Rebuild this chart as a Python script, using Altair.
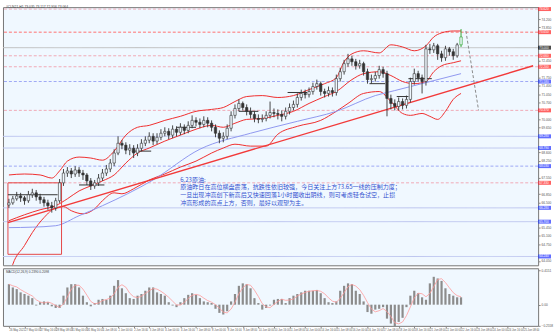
import json
import altair as alt
import pandas as pd

# ---------------- data ----------------
close = [66.49, 66.66, 66.78, 66.70, 66.58, 66.83, 66.91, 66.74, 66.62, 66.49,
         66.37, 66.28, 66.58, 67.33, 67.74, 67.83, 67.70, 67.87, 67.74, 67.66,
         67.41, 67.20, 67.33, 67.53, 67.74, 67.91, 68.16, 68.58, 68.99, 68.91,
         68.70, 68.78, 68.58, 68.78, 68.99, 69.12, 69.28, 69.08, 69.24, 69.41,
         69.49, 69.33, 69.58, 69.45, 69.66, 69.53, 69.74, 69.95, 69.87, 69.78,
         69.95, 69.83, 69.66, 69.41, 69.20, 69.28, 69.62, 70.16, 70.45, 70.66,
         70.49, 70.33, 70.20, 70.03, 69.99, 70.03, 70.16, 70.28, 70.24, 70.20,
         70.12, 70.33, 70.49, 70.62, 70.91, 71.08, 71.03, 71.16, 71.37, 71.49,
         71.16, 71.08, 71.20, 71.12, 71.70, 71.99, 72.33, 72.53, 72.41, 72.24,
         72.33, 71.99, 71.66, 71.70, 71.83, 72.08, 71.91, 70.87, 70.66, 70.53,
         70.74, 70.58, 70.83, 71.58, 71.91, 71.74, 71.58, 72.95, 72.91, 73.08,
         72.74, 72.58, 72.95, 72.83, 72.66, 73.12, 73.45]
high = [66.66, 66.78, 66.95, 66.91, 66.78, 66.99, 67.08, 67.03, 66.87, 66.74,
        66.62, 66.53, 66.70, 67.49, 67.91, 67.99, 67.95, 68.03, 67.99, 67.87,
        67.74, 67.53, 67.45, 67.70, 67.91, 68.08, 68.33, 68.74, 69.28, 69.12,
        69.03, 68.95, 68.91, 68.95, 69.16, 69.28, 69.45, 69.41, 69.41, 69.58,
        69.66, 69.62, 69.74, 69.70, 69.83, 69.78, 69.91, 70.16, 70.08, 70.03,
        70.12, 70.08, 69.95, 69.78, 69.53, 69.45, 69.78, 70.33, 70.62, 70.83,
        70.74, 70.62, 70.49, 70.33, 70.20, 70.20, 70.33, 70.74, 70.45, 70.41,
        70.37, 70.49, 70.66, 70.78, 71.08, 71.24, 71.24, 71.33, 71.53, 71.66,
        71.58, 71.28, 71.37, 71.33, 71.87, 72.16, 72.49, 72.74, 72.66, 72.53,
        72.49, 72.41, 72.12, 71.87, 71.99, 72.24, 72.20, 72.03, 71.03, 70.83,
        70.91, 70.87, 70.99, 71.74, 72.12, 72.03, 71.87, 73.12, 73.16, 73.20,
        73.16, 72.87, 73.08, 73.03, 72.95, 73.20, 73.78]
low = [66.28, 66.41, 66.58, 66.53, 66.41, 66.49, 66.70, 66.58, 66.45, 66.33,
       66.20, 66.08, 66.16, 66.49, 67.20, 67.58, 67.53, 67.58, 67.58, 67.45,
       67.24, 67.03, 67.08, 67.20, 67.41, 67.62, 67.78, 68.03, 68.49, 68.74,
       68.53, 68.49, 68.37, 68.45, 68.66, 68.87, 68.99, 68.91, 68.95, 69.12,
       69.28, 69.16, 69.20, 69.28, 69.33, 69.37, 69.41, 69.62, 69.70, 69.62,
       69.66, 69.66, 69.49, 69.24, 68.99, 69.03, 69.16, 69.49, 70.03, 70.33,
       70.37, 70.16, 70.03, 69.87, 69.83, 69.87, 69.91, 70.03, 70.08, 69.99,
       69.91, 69.99, 70.20, 70.37, 70.49, 70.78, 70.87, 70.91, 71.03, 71.24,
       70.99, 70.91, 70.95, 70.95, 70.99, 71.58, 71.87, 72.20, 72.24, 72.08,
       72.12, 71.83, 71.49, 71.49, 71.58, 71.70, 71.74, 70.12, 70.41, 70.37,
       70.37, 70.41, 70.45, 70.70, 71.45, 71.58, 71.08, 71.41, 72.74, 72.78,
       72.49, 72.41, 72.45, 72.66, 72.49, 72.58, 73.03]
first_open = 66.40

macd = [0.25, 0.21, 0.19, 0.15, 0.13, 0.11, 0.08, -0.01, 0.03, 0.04,
        0.03, -0.02, -0.04, -0.04, 0.11, 0.21, 0.25, 0.25, 0.21, 0.11,
        0.03, -0.02, 0.02, 0.06, 0.07, 0.06, 0.11, 0.23, 0.30, 0.20,
        0.14, 0.08, 0.07, 0.11, 0.13, 0.17, 0.21, 0.21, 0.15, 0.13,
        0.11, 0.03, -0.01, -0.03, 0.03, 0.08, 0.12, 0.14, 0.12, 0.08,
        0.04, 0.03, 0.02, -0.05, -0.10, -0.12, -0.08, 0.04, 0.13, 0.23,
        0.26, 0.25, 0.20, 0.08, 0.02, -0.06, -0.04, -0.01, 0.06, 0.07,
        0.07, 0.02, 0.08, 0.11, 0.13, 0.15, 0.17, 0.17, 0.17, 0.18,
        0.14, 0.08, 0.03, 0.02, 0.04, 0.17, 0.23, 0.26, 0.25, 0.17,
        0.13, 0.04, -0.09, -0.11, -0.06, -0.05, -0.03, -0.17, -0.23, -0.26,
        -0.21, -0.16, -0.03, 0.11, 0.17, 0.14, 0.09, 0.06, 0.26, 0.34,
        0.32, 0.29, 0.20, 0.13, 0.11, 0.09, 0.09]

ub_i = [0, 4, 8, 11, 13, 15, 18, 21, 24, 27, 30, 33, 36, 40, 44, 48, 52, 55, 58, 61,
        65, 69, 73, 77, 81, 84, 86, 88, 91, 95, 98, 101, 104, 107, 109, 111, 114, 116]
ub_v = [67.66, 67.70, 67.66, 67.53, 67.83, 68.24, 68.41, 68.37, 68.28, 68.66,
        69.33, 69.66, 69.74, 69.95, 70.12, 70.33, 70.41, 70.49, 70.74, 70.95,
        70.99, 70.91, 70.99, 71.24, 71.49, 71.74, 72.41, 72.74, 72.87, 72.78,
        73.12, 73.03, 72.87, 73.08, 73.45, 73.62, 73.70, 73.70]
mb_i = [0, 4, 8, 12, 15, 18, 21, 24, 27, 30, 33, 36, 40, 44, 48, 52, 55, 58, 61,
        65, 69, 73, 77, 81, 84, 88, 91, 95, 98, 101, 104, 107, 109, 111, 114, 116]
mb_v = [65.74, 65.99, 66.20, 66.37, 66.66, 66.99, 67.20, 67.41, 67.66, 68.16,
        68.58, 68.79, 69.08, 69.33, 69.58, 69.74, 69.66, 69.83, 69.99,
        70.03, 70.16, 70.33, 70.66, 70.95, 71.16, 71.66, 71.91, 71.99, 71.83,
        71.58, 71.49, 71.58, 71.99, 72.24, 72.37, 72.45]
lb_i = [0, 1, 4, 6, 9, 12, 14, 16, 19, 22, 24, 27, 29, 32, 36, 40, 44, 48, 52, 55,
        58, 62, 66, 69, 74, 80, 84, 87, 91, 95, 98, 101, 103, 106, 108, 110, 112, 114, 116]
lb_v = [63.37, 63.91, 64.70, 65.24, 65.87, 66.28, 66.33, 66.16, 66.03, 66.24,
        66.58, 66.91, 66.87, 67.08, 67.45, 67.70, 67.99, 68.24, 68.58, 68.79,
        68.95, 68.87, 68.87, 69.37, 69.70, 69.95, 70.33, 70.66, 71.08, 71.16,
        70.74, 70.24, 70.16, 70.24, 70.12, 69.99, 70.33, 70.83, 71.08]

ma_i = [0, 6, 12, 18, 24, 37, 49, 62, 74, 84, 94, 99, 116]
ma_v = [65.45, 65.47, 65.53, 65.95, 66.37, 67.45, 68.74, 69.41, 69.91, 70.33, 70.99, 71.20, 71.91]

trend_i = [-0.25, 134.5]
trend_v = [65.66, 72.24]

box_i = [-0.25, 13.5]
box_v = [67.33, 64.33]

seg_i0 = [-0.25, 18, 31.5, 43, 59, 71.5, 92.5, 99.5, 102.5]
seg_i1 = [12.5, 24.5, 36.5, 48, 64, 76.5, 96.5, 102.5, 108.5]
seg_v = [66.83, 67.24, 68.66, 69.66, 70.33, 71.12, 71.49, 70.95, 71.70]

proj_i = [117.25, 120.5]
proj_v = [73.70, 70.37]

level_v = [74.62, 73.65, 73.00, 72.66, 72.20, 71.58, 70.37, 69.28, 68.79, 68.03, 67.33, 66.28, 65.70, 64.24]
level_kind = ["pink", "red", "bid", "pink", "pink", "blue_dash", "pink", "blue", "blue",
              "blue_dash", "pink", "blue", "blue", "blue"]

price_ticks = [64.05, 64.40, 64.75, 65.10, 65.45, 65.80, 66.15, 66.50, 66.85, 67.20,
               67.55, 67.90, 68.25, 68.60, 68.95, 69.30, 69.65, 70.00, 70.35, 70.70,
               71.05, 71.40, 71.75, 72.10, 72.45, 72.80, 73.15, 73.50, 73.85, 74.20, 74.55]
macd_ticks = [0.4151, 0.0, -0.2558]
time_labels = ["26 May 2021", "27 May 00:00", "27 May 16:00", "28 May 08:00", "31 May 00:00",
               "31 May 16:00", "1 Jun 08:00", "2 Jun 00:00", "2 Jun 16:00", "3 Jun 08:00",
               "4 Jun 00:00", "4 Jun 16:00", "7 Jun 08:00", "8 Jun 00:00", "8 Jun 16:00",
               "9 Jun 08:00", "10 Jun 00:00", "10 Jun 16:00", "11 Jun 08:00", "14 Jun 00:00",
               "14 Jun 16:00", "15 Jun 08:00", "16 Jun 00:00", "16 Jun 16:00", "17 Jun 08:00",
               "18 Jun 00:00", "18 Jun 16:00", "21 Jun 08:00", "22 Jun 00:00", "22 Jun 16:00",
               "23 Jun 08:00", "24 Jun 00:00", "24 Jun 16:00", "25 Jun 08:00"]

note_lines = ["6.23原油:",
              "原油昨日在高位横盘震荡，抗跌性依旧较强，今日关注上方73.65一线的压制力度；",
              "一旦出现冲高创下新高后又快速回落1小时图收出阴线，则可考虑轻仓试空，止损",
              "冲高形成的高点上方，否则，最好以观望为主。"]
header_text = "#CLN21,H1  73.035 73.117 72.956 73.064"
macd_text = "MACD(12,26,9) 0.2390 0.2098"

# ---------------- layout / style ----------------
W = 539
H_MAIN = 260
H_MACD = 58
X_DOM = [-0.25, 134.5]
Y_DOM = [63.87, 74.70]
M_DOM = [-0.258, 0.444]
LAST = len(close) - 1

xs = alt.Scale(domain=X_DOM, nice=False, zero=False)
ys = alt.Scale(domain=Y_DOM, nice=False, zero=False)
mys = alt.Scale(domain=M_DOM, nice=False, zero=False)

# tick labels hidden under the coloured price boxes are not drawn
shown_ticks = [t for t in price_ticks if all(abs(t - l) > 0.17 for l in level_v)]

y_axis = alt.Axis(orient="right", values=shown_ticks, format=".3f", labelFontSize=3.2,
                  labelColor="#555555", tickSize=2, tickColor="#888888", labelPadding=1,
                  domain=False, grid=False, title=None, labelOverlap=False)


def X(field):
    return alt.X(field, scale=xs, axis=None)


def Y(field):
    return alt.Y(field, scale=ys, axis=y_axis)


idx = list(range(len(close)))
df = pd.DataFrame({"i": idx, "open": [first_open] + close[:-1], "high": high,
                   "low": low, "close": close})
df["high"] = df[["high", "open", "close"]].max(axis=1)
df["low"] = df[["low", "open", "close"]].min(axis=1)

kind_color = {"red": "#ff7070", "pink": "#f0a9b6", "blue_dash": "#9ea8f5",
              "blue": "#bcc5ef", "bid": "#bdbdbd"}
kind_dash = {"red": "dash", "pink": "dash", "blue_dash": "dash", "blue": "solid", "bid": "solid"}
kind_box = {"red": "#ff2020", "pink": "#ff2020", "blue_dash": "#2030ff",
            "blue": "#2030ff", "bid": "#000000"}
lv = pd.DataFrame({"price": level_v, "kind": level_kind})
lv["col"] = lv["kind"].map(kind_color)
lv["dash"] = lv["kind"].map(kind_dash)
lv["box"] = lv["kind"].map(kind_box)

levels = alt.Chart(lv).mark_rule(strokeWidth=1).encode(
    y=Y("price:Q"),
    color=alt.Color("col:N", scale=None),
    strokeDash=alt.StrokeDash("dash:N", scale=alt.Scale(domain=["solid", "dash"],
                                                         range=[[1, 0], [3, 2]]), legend=None),
)

bands_df = pd.concat([
    pd.DataFrame({"band": "upper", "i": ub_i, "price": ub_v}),
    pd.DataFrame({"band": "middle", "i": mb_i, "price": mb_v}),
    pd.DataFrame({"band": "lower", "i": lb_i, "price": lb_v}),
])
bands = alt.Chart(bands_df).mark_line(clip=True, color="#ef2e2e", strokeWidth=1,
                                      interpolate="monotone").encode(
    x=X("i:Q"), y=Y("price:Q"), detail="band:N")

ma = alt.Chart(pd.DataFrame({"i": ma_i, "price": ma_v})).mark_line(
    clip=True, color="#8f97ef", strokeWidth=1, interpolate="monotone").encode(
    x=X("i:Q"), y=Y("price:Q"))

trend = alt.Chart(pd.DataFrame({"i": trend_i, "price": trend_v})).mark_line(
    clip=True, color="#f23a3a", strokeWidth=1.4).encode(x=X("i:Q"), y=Y("price:Q"))

rect = alt.Chart(pd.DataFrame({"i0": [box_i[0]], "i1": [box_i[1]], "p0": [box_v[0]],
                               "p1": [box_v[1]]})).mark_rect(
    fillOpacity=0, stroke="#e54848", strokeWidth=1).encode(
    x=X("i0:Q"), x2="i1:Q", y=Y("p0:Q"), y2="p1:Q")

segs = alt.Chart(pd.DataFrame({"i0": seg_i0, "i1": seg_i1, "price": seg_v})).mark_rule(
    color="#333333", strokeWidth=1).encode(x=X("i0:Q"), x2="i1:Q", y=Y("price:Q"))

is_last = f"datum.i == {LAST}"
wicks = alt.Chart(df).mark_rule(strokeWidth=0.9).encode(
    x=X("i:Q"), y=Y("low:Q"), y2="high:Q",
    color=alt.condition(is_last, alt.value("#1f9f1f"), alt.value("#333333")))
bodies = alt.Chart(df).mark_bar(width=2.4, strokeWidth=0.6).encode(
    x=X("i:Q"), y=Y("open:Q"), y2="close:Q",
    fill=alt.condition("datum.close >= datum.open", alt.value("#f0f8ff"), alt.value("#333333")),
    stroke=alt.condition(is_last, alt.value("#1f9f1f"), alt.value("#333333")))

proj = alt.Chart(pd.DataFrame({"i": proj_i, "price": proj_v})).mark_line(
    color="#8a8a8a", strokeWidth=1, strokeDash=[3, 2]).encode(x=X("i:Q"), y=Y("price:Q"))

one = pd.DataFrame({"a": [0]})
note = alt.Chart(one).mark_text(align="left", baseline="top", fontSize=6.1, lineHeight=7.8,
                                font="Noto Sans CJK SC", color="#3050cf").encode(
    x=alt.value(178.5), y=alt.value(170.8), text=alt.value(note_lines))
header = alt.Chart(one).mark_text(align="left", baseline="top", fontSize=3.4,
                                  font="Liberation Sans", color="#444444").encode(
    x=alt.value(3), y=alt.value(-2), text=alt.value(header_text))

boxes = alt.Chart(lv).mark_tick(orient="horizontal", size=13, thickness=4).encode(
    x=alt.value(545.5), y=Y("price:Q"), color=alt.Color("box:N", scale=None))
box_text = alt.Chart(lv).mark_text(align="left", baseline="middle", fontSize=3.1,
                                   font="Liberation Sans", color="#ffffff").encode(
    x=alt.value(540.2), y=Y("price:Q"), text=alt.Text("price:Q", format=".3f"))

main = alt.layer(levels, bands, ma, trend, rect, segs, wicks, bodies, proj, note, header,
                 boxes, box_text).properties(width=W, height=H_MAIN)

# ---------------- MACD panel ----------------
mdf = pd.DataFrame({"i": idx, "macd": macd})
labels_js = json.dumps(time_labels)
mx_axis = alt.Axis(values=list(range(0, 4 * len(time_labels), 4)),
                   labelExpr=f"{labels_js}[round(datum.value / 4)]",
                   labelAlign="left", labelFontSize=2.7, labelColor="#555555",
                   tickSize=2, tickColor="#888888", labelPadding=1, domain=False,
                   grid=False, title=None, labelOverlap=False)
m_axis = alt.Axis(orient="right", values=macd_ticks,
                  labelExpr="datum.value == 0 ? '0.00' : format(datum.value, '.4f')",
                  labelFontSize=3.2, labelColor="#555555", tickSize=2, tickColor="#888888",
                  labelPadding=1, domain=False, grid=False, title=None, labelOverlap=False)

mbars = alt.Chart(mdf).mark_bar(width=2.2, color="#8c8c8c").encode(
    x=alt.X("i:Q", scale=xs, axis=mx_axis),
    y=alt.Y("macd:Q", scale=mys, axis=m_axis),
    y2=alt.datum(0))
msig = alt.Chart(mdf).transform_window(
    sig="mean(macd)", frame=[-2, 0], sort=[alt.SortField("i")]
).mark_line(color="#ff9a9a", strokeWidth=0.8).encode(
    x=alt.X("i:Q", scale=xs, axis=mx_axis),
    y=alt.Y("sig:Q", scale=mys, axis=m_axis))
mlabel = alt.Chart(one).mark_text(align="left", baseline="top", fontSize=3.2,
                                  font="Liberation Sans", color="#444444").encode(
    x=alt.value(3), y=alt.value(2), text=alt.value(macd_text))

macd_chart = alt.layer(mbars, msig, mlabel).properties(width=W, height=H_MACD)

chart = alt.vconcat(main, macd_chart, spacing=1).properties(
    padding={"left": 2, "top": 3, "right": 0, "bottom": 0},
    background="#ffffff",
).configure_view(fill="#f0f8ff", stroke="#777777", strokeWidth=1)

chart.save("out.html", embed_options={"renderer": "svg", "actions": False})
